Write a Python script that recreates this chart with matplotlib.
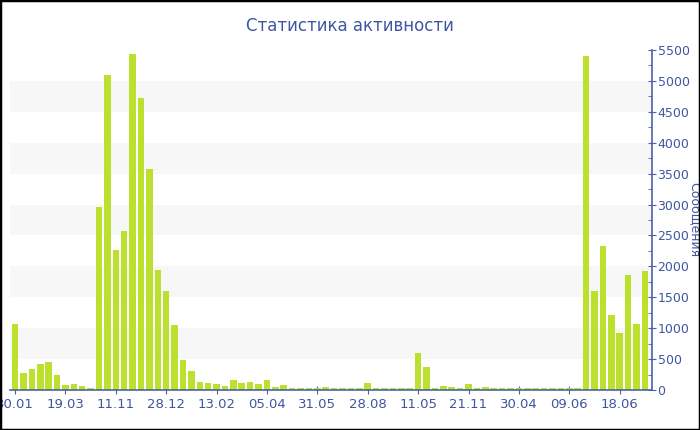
import matplotlib
matplotlib.use('Agg')
import matplotlib.pyplot as plt
from matplotlib.patches import Rectangle
from matplotlib.ticker import MultipleLocator

# ── Data ──────────────────────────────────────────────────────────────────────
messages = [
    1070, 270, 340, 415, 455, 250, 76, 97, 65, 35,
    2960, 5090, 2260, 2570, 5430, 4720, 3570, 1945, 1600, 1050,
    480, 305, 135, 113, 97, 59, 162, 120, 129, 92,
    156, 49, 86, 40, 35, 35, 35, 49, 32, 30,
    32, 35, 113, 35, 32, 28, 28, 28, 593, 372,
    32, 70, 49, 32, 97, 40, 49, 40, 35, 30,
    30, 30, 30, 30, 30, 28, 28, 28, 5405, 1607,
    2330, 1210, 917, 1856, 1074, 1925,
]
periods = list(range(len(messages)))
tick_labels = ['30.01', '19.03', '11.11', '28.12', '13.02', '05.04', '31.05',
               '28.08', '11.05', '21.11', '30.04', '09.06', '18.06']
TICK_EVERY = 6

# ── Style ─────────────────────────────────────────────────────────────────────
BAR_COLOR  = '#bce02e'
TEXT_COLOR = '#3f56a0'
AXIS_COLOR = '#4a62a8'
BAND_COLOR = '#f7f7f7'

fig = plt.figure(figsize=(7, 4.3), dpi=100, facecolor='white')
ax = fig.add_axes([10 / 700, 40 / 430, 642 / 700, 340 / 430])
ax.set_facecolor('white')

# alternating bands
for lo in range(500, 5500, 1000):
    ax.axhspan(lo, lo + 500, color=BAND_COLOR, zorder=0, lw=0)

ax.bar(periods, messages, width=0.78, color=BAR_COLOR, zorder=2)

ax.set_xlim(-0.6, len(messages) - 0.15)
ax.set_ylim(0, 5500)

# axes / spines
for side in ('top', 'left'):
    ax.spines[side].set_visible(False)
for side in ('bottom', 'right'):
    ax.spines[side].set_color(AXIS_COLOR)
    ax.spines[side].set_linewidth(1.2)

ax.yaxis.tick_right()
ax.yaxis.set_label_position('right')
ax.yaxis.set_major_locator(MultipleLocator(500))
ax.yaxis.set_minor_locator(MultipleLocator(250))
ax.tick_params(axis='y', which='major', direction='inout', length=6,
               color=AXIS_COLOR, labelcolor=TEXT_COLOR, labelsize=9, pad=1)
ax.tick_params(axis='y', which='minor', direction='in', length=3, color=AXIS_COLOR)

ax.set_xticks(periods[::TICK_EVERY])
ax.set_xticklabels(tick_labels)
ax.tick_params(axis='x', direction='inout', length=6, color=AXIS_COLOR,
               labelcolor=TEXT_COLOR, labelsize=9.5, pad=3)

ax.set_ylabel('Сообщения', rotation=270, color=TEXT_COLOR, fontsize=9,
              va='center')
ax.yaxis.set_label_coords(1.066, 0.5)

fig.text(0.5, 0.94, 'Статистика активности', ha='center', va='center',
         color=TEXT_COLOR, fontsize=12)

# outer frame
fig.patches.append(Rectangle((0, 0), 1, 1, transform=fig.transFigure,
                             fill=False, edgecolor='black', linewidth=2.5))

fig.savefig('out.png', dpi=100, facecolor='white')
